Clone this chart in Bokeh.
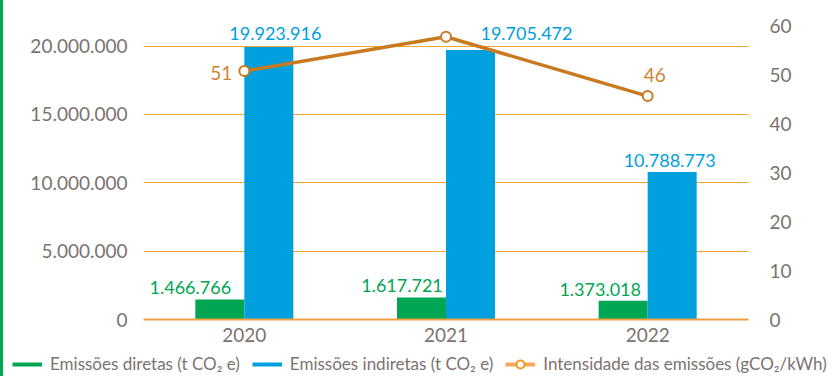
from bokeh.plotting import figure
from bokeh.models import (FactorRange, Range1d, LinearAxis, ColumnDataSource, LabelSet,
                          Legend, LegendItem, FixedTicker, Div)
from bokeh.layouts import row, column
from bokeh.transform import dodge
from bokeh.embed import file_html
from bokeh.resources import INLINE
from bokeh.core.properties import value

# ---- data ----
years = ["2020", "2021", "2022"]
direct = [1466766, 1617721, 1373018]
indirect = [19923916, 19705472, 10788773]
intensity = [50.7, 57.7, 45.6]
intensity_labels = ["51", "58", "46"]
left_ticks = [0, 5000000, 10000000, 15000000, 20000000]
right_ticks = [0, 10, 20, 30, 40, 50, 60]
series_names = ["Emissões diretas (t CO₂ e)", "Emissões indiretas (t CO₂ e)",
                "Intensidade das emissões (gCO₂/kWh)"]

def fmt(v):
    return f"{v:,}".replace(",", ".")

# ---- styles / layout ----
FONT = "Lato"
GREY = "#7b7371"
GREEN = "#00a651"
BLUE = "#00a0de"
LINE = "#c97a1f"
GRID = "#f6a530"
BAR_W = 0.243

direct_dx = [-29.5, -19.5, -23]
direct_dy = [5, 5, 5]
indirect_dx = [6.5, 56, -2.5]
indirect_dy = [7, 10, 5]
int_dx = [-23, 4, 7]
int_dy = [-8.5, 13, 14.5]

src = ColumnDataSource(dict(
    year=years, direct=direct, indirect=indirect, intensity=intensity,
    direct_label=[fmt(v) for v in direct], indirect_label=[fmt(v) for v in indirect],
    int_label=intensity_labels,
    ddx=direct_dx, ddy=direct_dy, idx=indirect_dx, idy=indirect_dy, ldx=int_dx, ldy=int_dy,
))

p = figure(width=835, height=346, x_range=FactorRange(*years), y_range=Range1d(0, 21.5e6),
           output_backend="svg", toolbar_location=None,
           min_border_left=140, min_border_right=90, min_border_top=25, min_border_bottom=27)
p.frame_align = False
p.extra_y_ranges = {"right": Range1d(0, 60)}
p.outline_line_color = None
p.background_fill_color = "white"
p.border_fill_color = "white"

# axes
p.xaxis.axis_line_color = "#f0a040"
p.xaxis.axis_line_width = 2
p.xaxis.major_tick_line_color = None
p.xaxis.minor_tick_line_color = None
p.xaxis.major_label_standoff = 2
p.xaxis.major_label_text_font = FONT
p.xaxis.major_label_text_font_size = "19px"
p.xaxis.major_label_text_color = GREY

p.yaxis.ticker = FixedTicker(ticks=left_ticks)
p.yaxis.major_label_overrides = {t: fmt(t) for t in left_ticks}
p.yaxis.axis_line_color = None
p.yaxis.major_tick_line_color = None
p.yaxis.minor_tick_line_color = None
p.yaxis.major_label_standoff = 10
p.yaxis.major_label_text_font = FONT
p.yaxis.major_label_text_font_size = "19px"
p.yaxis.major_label_text_color = GREY

ra = LinearAxis(y_range_name="right", ticker=FixedTicker(ticks=right_ticks))
ra.axis_line_color = None
ra.major_tick_line_color = None
ra.minor_tick_line_color = None
ra.major_label_standoff = 15
ra.major_label_text_font = FONT
ra.major_label_text_font_size = "19px"
ra.major_label_text_color = GREY
p.add_layout(ra, "right")

p.xgrid.grid_line_color = None
p.ygrid.grid_line_color = GRID
p.ygrid.grid_line_width = 1

# bars
p.vbar(x=dodge("year", -BAR_W / 2, range=p.x_range), top="direct", width=BAR_W,
       source=src, fill_color=GREEN, line_color=None)
p.vbar(x=dodge("year", BAR_W / 2, range=p.x_range), top="indirect", width=BAR_W,
       source=src, fill_color=BLUE, line_color=None)

# line
p.line(x="year", y="intensity", y_range_name="right", source=src, line_color=LINE, line_width=3.5)
p.scatter(x="year", y="intensity", y_range_name="right", source=src, marker="circle", size=10,
          fill_color="white", line_color=LINE, line_width=2)

# labels
LBL = "18px"
p.add_layout(LabelSet(x=dodge("year", -BAR_W / 2, range=p.x_range), y="direct", text="direct_label",
                      x_offset="ddx", y_offset="ddy", source=src, text_align="center",
                      text_baseline="alphabetic", text_font=value(FONT), text_font_size=LBL,
                      text_color=GREEN))
p.add_layout(LabelSet(x=dodge("year", BAR_W / 2, range=p.x_range), y="indirect", text="indirect_label",
                      x_offset="idx", y_offset="idy", source=src, text_align="center",
                      text_baseline="alphabetic", text_font=value(FONT), text_font_size=LBL,
                      text_color=BLUE))
p.add_layout(LabelSet(x="year", y="intensity", y_range_name="right", text="int_label",
                      x_offset="ldx", y_offset="ldy", source=src, text_align="center",
                      text_baseline="alphabetic", text_font=value(FONT), text_font_size="19px",
                      text_color="#cf8530"))

# legend strip: separate figure whose y range lies below all values, so its
# renderers only provide legend swatches
lf = figure(width=835, height=30, x_range=FactorRange(*years), y_range=Range1d(-2, -1),
            x_axis_type=None, y_axis_type=None, output_backend="svg", toolbar_location=None,
            min_border=0)
lf.frame_align = False
lf.outline_line_color = None
lf.xgrid.visible = False
lf.ygrid.visible = False
lg = lf.line(x="year", y="direct", source=src, line_color=GREEN, line_width=4)
lb = lf.line(x="year", y="indirect", source=src, line_color=BLUE, line_width=4)
li = lf.line(x="year", y="intensity", source=src, line_color="#f7a85c", line_width=4)
lm = lf.scatter(x="year", y="intensity", source=src, marker="circle", size=8,
                fill_color="white", line_color="#f39a1e", line_width=2)
legend = Legend(items=[LegendItem(label=series_names[0], renderers=[lg]),
                       LegendItem(label=series_names[1], renderers=[lb]),
                       LegendItem(label=series_names[2], renderers=[li, lm])],
                orientation="horizontal", location=(9, 2), padding=0, margin=0,
                spacing=12, glyph_width=30, label_standoff=8,
                label_text_font=FONT, label_text_font_size="17px", label_text_color=GREY,
                border_line_color=None, background_fill_alpha=0)
lf.add_layout(legend, "center")

bar = Div(width=3, height=376, margin=0, styles={"background-color": GREEN})
layout = row(bar, column(p, lf, spacing=0), spacing=0)

open("out.html", "w").write(file_html(layout, INLINE))
